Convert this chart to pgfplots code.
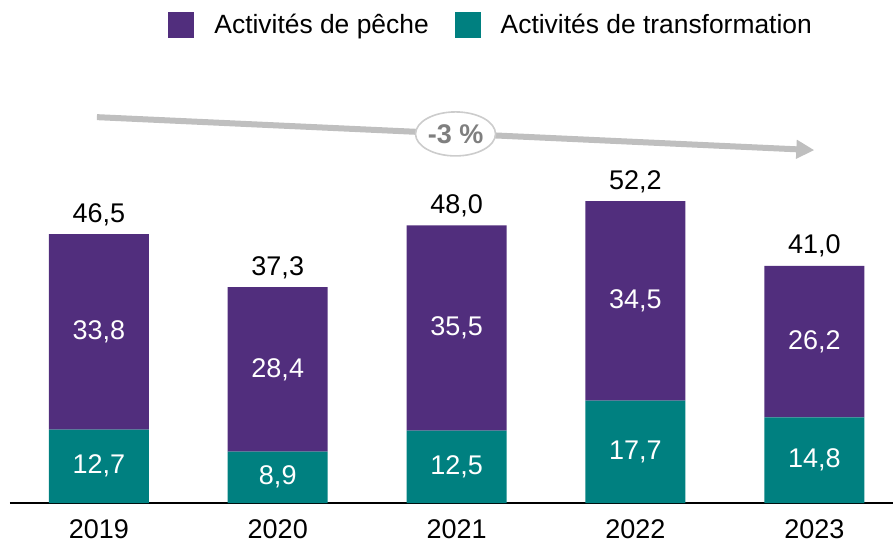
\documentclass[border=0pt]{standalone}
\usepackage{fontspec}
\setmainfont{Liberation Sans}
\usepackage{pgfplots}
\pgfplotsset{compat=1.18}
\usetikzlibrary{arrows.meta,shapes.geometric}
\definecolor{cPeche}{RGB}{81,46,125}
\definecolor{cTransfo}{RGB}{0,128,128}
\definecolor{cArrow}{RGB}{191,191,191}
\definecolor{cPct}{RGB}{127,127,127}

\begin{document}
\begin{tikzpicture}[
    inlab/.style={white, font=\fontsize{13.5}{16}\selectfont},
    toplab/.style={black, anchor=base, yshift=6pt, font=\fontsize{13.5}{16}\selectfont},
]
\begin{axis}[
    scale only axis,
    width=441.5pt, height=251.5pt,
    ybar stacked, bar width=50pt,
    xmin=-0.497, xmax=4.44,
    ymin=0, ymax=86.95,
    axis x line*=bottom, axis y line=none,
    axis line style={black, line width=0.8pt, -},
    xtick={0,1,2,3,4},
    xticklabels={2019,2020,2021,2022,2023},
    major tick length=0pt,
    xticklabel style={anchor=base, yshift=-17.5pt, font=\fontsize{13.5}{16}\selectfont},
    clip=false,
    legend columns=2,
    legend style={at={(rel axis cs:0.546,0.95)}, anchor=center, draw=none,
        font=\fontsize{13.2}{16}\selectfont,
        /tikz/every odd column/.append style={column sep=8pt},
        /tikz/every even column/.append style={column sep=11pt}},
    legend image code/.code={\fill[#1] (0pt,-6.5pt) rectangle (13pt,6.5pt);},
    reverse legend,
]
% transformation (bottom), peche (top)
\addplot[fill=cTransfo, draw=none] coordinates {(0,12.7) (1,8.9) (2,12.5) (3,17.7) (4,14.8)};
\addlegendentry{Activités de transformation}
\addplot[fill=cPeche, draw=none] coordinates {(0,33.8) (1,28.4) (2,35.5) (3,34.5) (4,26.2)};
\addlegendentry{Activités de pêche}

% anchor points for the annotations (drawn after the axis)
\coordinate (b0) at (axis cs:0,6.35);
\coordinate (b1) at (axis cs:1,4.45);
\coordinate (b2) at (axis cs:2,6.25);
\coordinate (b3) at (axis cs:3,8.85);
\coordinate (b4) at (axis cs:4,7.4);
\coordinate (p0) at (axis cs:0,29.6);
\coordinate (p1) at (axis cs:1,23.1);
\coordinate (p2) at (axis cs:2,30.25);
\coordinate (p3) at (axis cs:3,34.95);
\coordinate (p4) at (axis cs:4,27.9);
\coordinate (t0) at (axis cs:0,46.5);
\coordinate (t1) at (axis cs:1,37.3);
\coordinate (t2) at (axis cs:2,48.0);
\coordinate (t3) at (axis cs:3,52.2);
\coordinate (t4) at (axis cs:4,41.0);
\coordinate (arrA) at (axis cs:-0.011,66.7);
\coordinate (arrB) at (axis cs:4.0,61.0);
\coordinate (pct) at (axis cs:1.994,63.8);
\end{axis}

% labels inside the bars
\node[inlab] at (b0) {12,7};
\node[inlab] at (b1) {8,9};
\node[inlab] at (b2) {12,5};
\node[inlab] at (b3) {17,7};
\node[inlab] at (b4) {14,8};
\node[inlab] at (p0) {33,8};
\node[inlab] at (p1) {28,4};
\node[inlab] at (p2) {35,5};
\node[inlab] at (p3) {34,5};
\node[inlab] at (p4) {26,2};
% totals
\node[toplab] at (t0) {46,5};
\node[toplab] at (t1) {37,3};
\node[toplab] at (t2) {48,0};
\node[toplab] at (t3) {52,2};
\node[toplab] at (t4) {41,0};

% trend arrow
\draw[cArrow, line width=3pt, -{Triangle[length=9pt, width=9pt]}] (arrA) -- (arrB);
\node[ellipse, draw=cArrow!80, line width=0.8pt, fill=white,
      minimum width=40pt, minimum height=22pt, inner sep=0pt,
      text=cPct, font=\bfseries\fontsize{13.5}{16}\selectfont]
    at (pct) {-3 \%};

\pgfresetboundingbox
\path (-5pt,-19.5pt) rectangle (441.5pt,251.5pt);
\end{tikzpicture}
\end{document}
